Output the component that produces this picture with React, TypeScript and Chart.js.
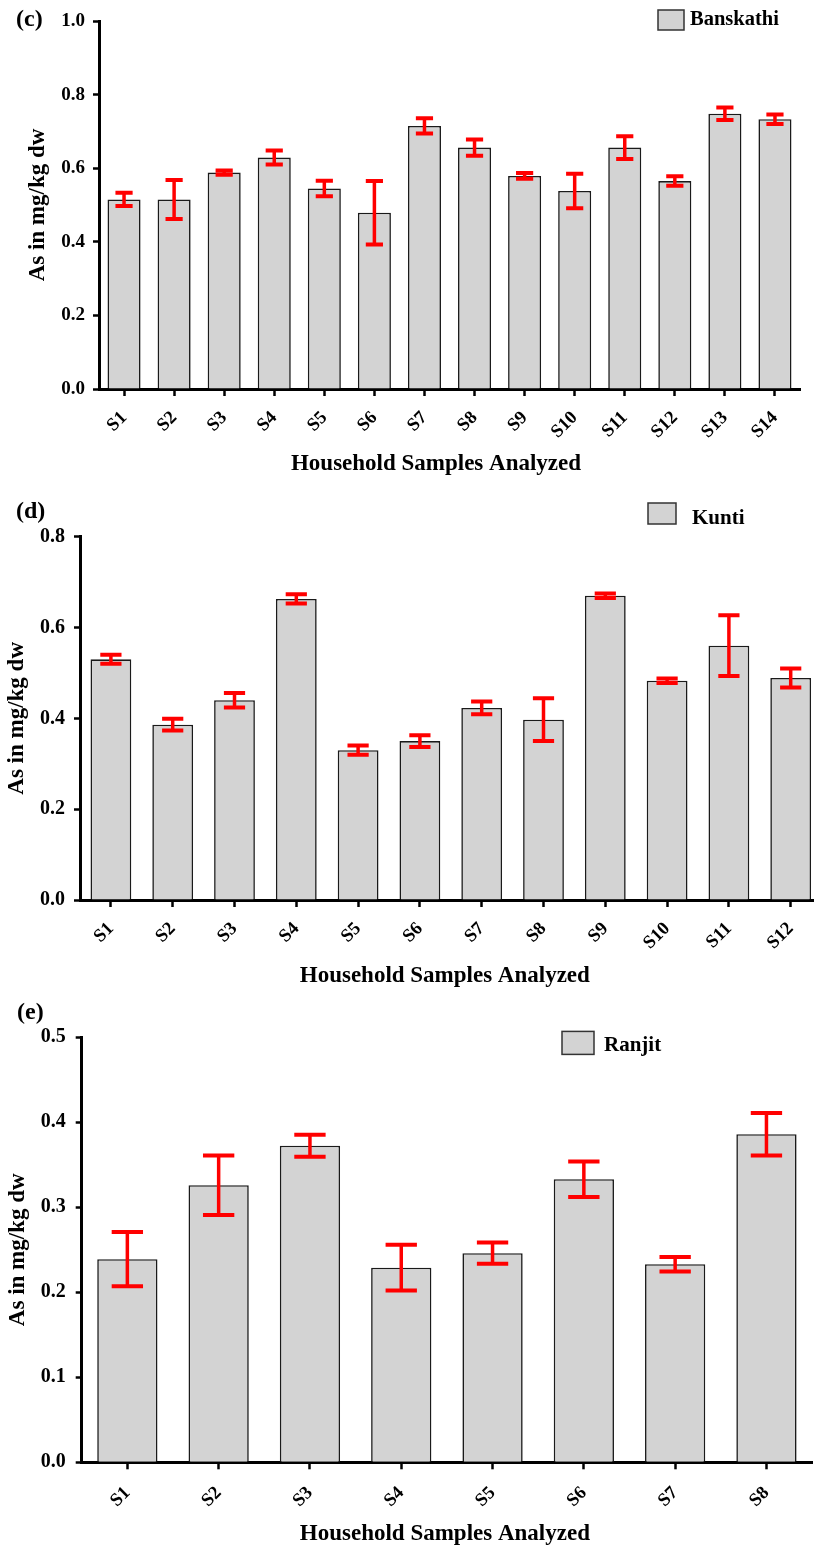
import React, { useEffect, useRef } from "react";
import { Chart, registerables } from "chart.js";
Chart.register(...registerables);

const FONT = "'Liberation Serif', 'Times New Roman', serif";

// ---- Data ----
const bansCategories = ["S1", "S2", "S3", "S4", "S5", "S6", "S7", "S8", "S9", "S10", "S11", "S12", "S13", "S14"];
const bansValues = [0.515, 0.515, 0.588, 0.629, 0.545, 0.479, 0.715, 0.656, 0.579, 0.538, 0.656, 0.565, 0.748, 0.733];
const bansErrors = [0.018, 0.053, 0.006, 0.019, 0.021, 0.086, 0.021, 0.022, 0.008, 0.047, 0.031, 0.013, 0.017, 0.013];

const kuntiCategories = ["S1", "S2", "S3", "S4", "S5", "S6", "S7", "S8", "S9", "S10", "S11", "S12"];
const kuntiValues = [0.53, 0.386, 0.44, 0.663, 0.33, 0.35, 0.423, 0.397, 0.67, 0.483, 0.56, 0.489];
const kuntiErrors = [0.01, 0.013, 0.016, 0.01, 0.01, 0.013, 0.014, 0.047, 0.005, 0.005, 0.067, 0.021];

const ranjitCategories = ["S1", "S2", "S3", "S4", "S5", "S6", "S7", "S8"];
const ranjitValues = [0.239, 0.326, 0.3725, 0.229, 0.246, 0.333, 0.233, 0.386];
const ranjitErrors = [0.032, 0.035, 0.013, 0.027, 0.0125, 0.021, 0.0085, 0.025];

const yTitle = "As in mg/kg dw";
const xTitle = "Household Samples Analyzed";

// ---- Plugins ----
const errorBarPlugin = {
  id: "errorBars",
  afterDatasetsDraw(chart: any, _args: any, opts: any) {
    const { ctx } = chart;
    const y = chart.scales.y;
    chart.data.datasets.forEach((ds: any, di: number) => {
      const meta = chart.getDatasetMeta(di);
      meta.data.forEach((bar: any, i: number) => {
        const v = ds.data[i];
        const e = ds.errors[i];
        const x = bar.x;
        const half = bar.width * 0.26;
        const yt = y.getPixelForValue(v + e);
        const yb = y.getPixelForValue(v - e);
        ctx.save();
        ctx.strokeStyle = opts.color;
        ctx.lineCap = "butt";
        ctx.lineWidth = opts.stemWidth;
        ctx.beginPath();
        ctx.moveTo(x, yt);
        ctx.lineTo(x, yb);
        ctx.stroke();
        ctx.lineWidth = opts.capWidth;
        ctx.beginPath();
        ctx.moveTo(x - half, yt);
        ctx.lineTo(x + half, yt);
        ctx.moveTo(x - half, yb);
        ctx.lineTo(x + half, yb);
        ctx.stroke();
        ctx.restore();
      });
    });
  },
};

const decorPlugin = {
  id: "decor",
  afterDraw(chart: any, _args: any, opts: any) {
    const { ctx, chartArea } = chart;
    ctx.save();
    ctx.fillStyle = "#000";
    ctx.textBaseline = "alphabetic";
    ctx.textAlign = "left";
    ctx.font = `bold ${opts.letterSize}px ${FONT}`;
    ctx.fillText(opts.letter, opts.letterX, opts.letterY);
    // legend
    const [bx, by, bw, bh] = opts.box;
    ctx.fillStyle = "#d3d3d3";
    ctx.fillRect(bx, by, bw, bh);
    ctx.strokeStyle = "#333";
    ctx.lineWidth = 1.5;
    ctx.strokeRect(bx, by, bw, bh);
    ctx.fillStyle = "#000";
    ctx.font = `bold ${opts.legendSize}px ${FONT}`;
    ctx.fillText(chart.data.datasets[0].label, opts.textX, opts.textY);
    // x axis title
    ctx.textAlign = "center";
    ctx.font = `bold ${opts.xTitleSize}px ${FONT}`;
    ctx.fillText(opts.xTitle, (chartArea.left + chartArea.right) / 2 + opts.xTitleDx, opts.xTitleY);
    ctx.restore();
  },
};

function makeConfig(p: any) {
  return {
    type: "bar",
    data: {
      labels: p.categories,
      datasets: [
        {
          label: p.name,
          data: p.values,
          errors: p.errors,
          backgroundColor: "#d3d3d3",
          borderColor: "#1a1a1a",
          borderWidth: 1.6,
          barPercentage: 0.66,
          categoryPercentage: 1,
        },
      ],
    },
    plugins: [errorBarPlugin, decorPlugin],
    options: {
      responsive: false,
      animation: false,
      layout: { padding: { left: 0, right: p.padRight, top: p.padTop, bottom: 0 } },
      plugins: {
        legend: { display: false },
        tooltip: { enabled: false },
        errorBars: { color: "#ff0000", stemWidth: 3.5, capWidth: 4 },
        decor: { ...p.decor, xTitle, xTitleSize: 23 },
      },
      scales: {
        x: {
          ticks: {
            maxRotation: 45,
            minRotation: 45,
            autoSkip: false,
            color: "#000",
            padding: p.xTickPad,
            font: { family: FONT, size: 18.5, weight: "bold" },
          },
          grid: { drawOnChartArea: false, offset: false, tickLength: 7, tickWidth: 2.5, tickColor: "#000" },
          border: { display: true, color: "#000", width: 3 },
          title: { display: false, text: xTitle },
          afterFit: (s: any) => {
            s.height = p.xH;
          },
        },
        y: {
          min: 0,
          max: p.yMax,
          ticks: {
            stepSize: p.yStep,
            color: "#000",
            padding: p.yTickPad,
            font: { family: FONT, size: p.yTickSize, weight: "bold" },
            callback: (v: any) => Number(v).toFixed(1),
          },
          grid: { drawOnChartArea: false, tickLength: 6, tickWidth: 2.5, tickColor: "#000" },
          border: { display: true, color: "#000", width: 3 },
          title: {
            display: true,
            text: yTitle,
            color: "#000",
            font: { family: FONT, size: 23, weight: "bold" },
            padding: { top: p.yTitlePad, bottom: 0 },
          },
          afterFit: (s: any) => {
            s.width = p.yW;
          },
        },
      },
    },
  };
}

function Panel({ params, top, width, height }: any) {
  const ref = useRef<HTMLCanvasElement | null>(null);
  useEffect(() => {
    const chart = new Chart(ref.current as any, makeConfig(params) as any);
    return () => chart.destroy();
  }, []);
  return (
    <canvas
      ref={ref}
      width={width}
      height={height}
      style={{ position: "absolute", left: 0, top, width, height }}
    />
  );
}

const panelC = {
  name: "Banskathi",
  categories: bansCategories,
  values: bansValues,
  errors: bansErrors,
  yMax: 1.0,
  yStep: 0.2,
  yW: 99,
  xH: 101,
  padTop: 21,
  padRight: 14,
  xTickPad: 11,
  yTitlePad: 24,
  yTickPad: 8,
  yTickSize: 19,
  decor: {
    letter: "(c)", letterX: 16, letterY: 26, letterSize: 24,
    box: [658, 10, 26, 20], textX: 690, textY: 25, legendSize: 20.5,
    xTitleDx: -13.5, xTitleY: 470,
  },
};

const panelD = {
  name: "Kunti",
  categories: kuntiCategories,
  values: kuntiValues,
  errors: kuntiErrors,
  yMax: 0.8,
  yStep: 0.2,
  yW: 80,
  xH: 90,
  padTop: 46.7,
  padRight: 8.4,
  xTickPad: 11,
  yTitlePad: 3,
  yTickPad: 9,
  yTickSize: 20,
  decor: {
    letter: "(d)", letterX: 16, letterY: 28.3, letterSize: 24,
    box: [648, 13, 28, 21], textX: 692, textY: 34.3, legendSize: 21,
    xTitleDx: -6, xTitleY: 491.7,
  },
};

const panelE = {
  name: "Ranjit",
  categories: ranjitCategories,
  values: ranjitValues,
  errors: ranjitErrors,
  yMax: 0.5,
  yStep: 0.1,
  yW: 81.7,
  xH: 84.7,
  padTop: 47.3,
  padRight: 1.9,
  xTickPad: 13,
  yTitlePad: 4,
  yTickPad: 10,
  yTickSize: 20,
  decor: {
    letter: "(e)", letterX: 17, letterY: 29.3, letterSize: 24,
    box: [562, 41.4, 32, 23], textX: 604, textY: 60.6, legendSize: 21,
    xTitleDx: -2, xTitleY: 550,
  },
};

export default function App() {
  return (
    <div
      style={{
        position: "absolute",
        left: 0,
        top: 0,
        width: 814,
        height: 1547,
        overflow: "hidden",
        background: "#fff",
      }}
    >
      <Panel params={panelC} top={0} width={814} height={490} />
      <Panel params={panelD} top={490} width={830} height={500} />
      <Panel params={panelE} top={990} width={814} height={557} />
    </div>
  );
}
